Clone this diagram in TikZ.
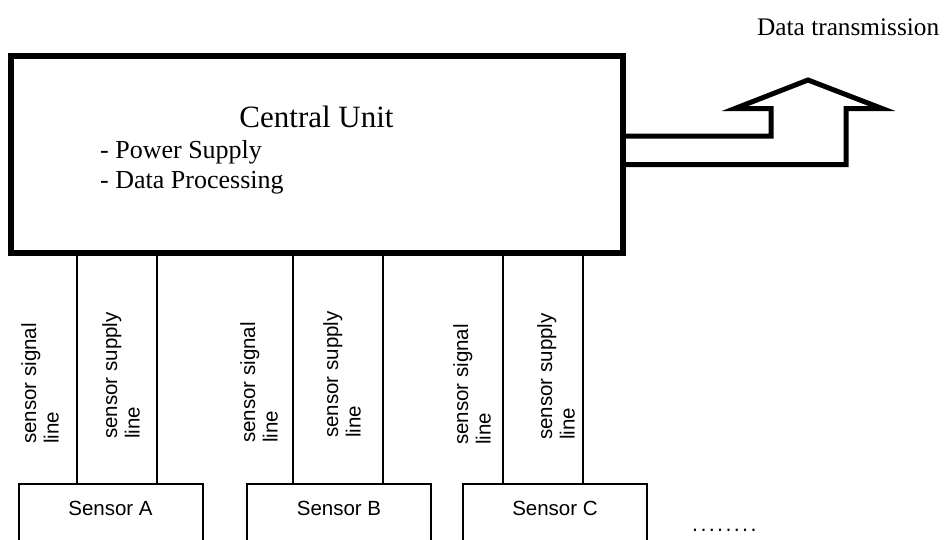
\documentclass[tikz,border=0pt]{standalone}
\usepackage{fontspec}
\setmainfont{Liberation Serif}
\newfontfamily\arialf{Liberation Sans}
\newfontfamily\arialdots[LetterSpace=11]{Liberation Sans}
\usetikzlibrary{calc}
\begin{document}
\begin{tikzpicture}[x=1pt,y=-1pt,
  mainbox/.style={draw,line width=6pt,rectangle,outer sep=0pt,inner sep=0pt,minimum width=612pt,minimum height=197pt},
  sensorbox/.style={draw,line width=2pt,rectangle,outer sep=0pt,inner sep=0pt,minimum width=184pt,minimum height=100pt,anchor=north},
  wire/.style={line width=2pt},
  sensortext/.style={font=\arialf\fontsize{20.5}{24}\selectfont,inner sep=0pt,anchor=base},
  linelabel/.style={font=\arialf\fontsize{20.5}{22.5}\selectfont,inner sep=0pt,rotate=90,anchor=west,align=left},
  serif/.style={inner sep=0pt}
]
\useasboundingbox (0,0) rectangle (946,539);
\clip (0,0) rectangle (946,539);

% sensor boxes
\node[sensorbox] (sa) at (110.5,484) {};
\node[sensorbox] (sb) at (339,484) {};
\node[sensorbox] (sc) at (555,484) {};
\node[sensortext] (sat) at (110.5,515) {Sensor A};
\node[sensortext] (sbt) at (339,515) {Sensor B};
\node[sensortext] (sct) at (555,515) {Sensor C};
\node[font=\arialdots\fontsize{21.5}{24}\selectfont,inner sep=0pt,anchor=base west] (dots) at (692,531) {........};

% wire x positions
\coordinate (xa1) at (77,0);
\coordinate (xa2) at (157,0);
\coordinate (xb1) at (293,0);
\coordinate (xb2) at (383,0);
\coordinate (xc1) at (503,0);
\coordinate (xc2) at (583,0);

% central unit
\node[mainbox] (cu) at (317,154.5) {};

\draw[wire] (cu.south -| xa1) -- (sa.north -| xa1);
\draw[wire] (cu.south -| xa2) -- (sa.north -| xa2);
\draw[wire] (cu.south -| xb1) -- (sb.north -| xb1);
\draw[wire] (cu.south -| xb2) -- (sb.north -| xb2);
\draw[wire] (cu.south -| xc1) -- (sc.north -| xc1);
\draw[wire] (cu.south -| xc2) -- (sc.north -| xc2);

\node[serif,anchor=base,font=\fontsize{31}{36}\selectfont] (cut) at (316.5,127) {Central Unit};
\node[serif,anchor=base west,font=\fontsize{26}{30}\selectfont] (ps) at (100,158) {- Power Supply};
\node[serif,anchor=base west,font=\fontsize{26}{30}\selectfont] (dp) at (100,188) {- Data Processing};
\node[serif,anchor=base west,font=\fontsize{25.3}{30}\selectfont] (dt) at (757,35) {Data transmission};

% line labels
\node[linelabel] (la1) at (40,444) {sensor signal\\line};
\node[linelabel] (la2) at (121,439) {sensor supply\\line};
\node[linelabel] (lb1) at (259,443) {sensor signal\\line};
\node[linelabel] (lb2) at (342,438) {sensor supply\\line};
\node[linelabel] (lc1) at (472,445) {sensor signal\\line};
\node[linelabel] (lc2) at (556,440) {sensor supply\\line};

% data transmission arrow
\coordinate (ya) at (0,136);
\coordinate (yb) at (0,164.5);
\draw[line width=5pt,line join=miter,miter limit=10]
  (cu.east |- ya) -- (771,136) -- (771,108.5) -- (735,108.5) -- (808,80) -- (882,108.5)
  -- (846,108.5) -- (846,164.5) -- (cu.east |- yb);
\end{tikzpicture}
\end{document}
